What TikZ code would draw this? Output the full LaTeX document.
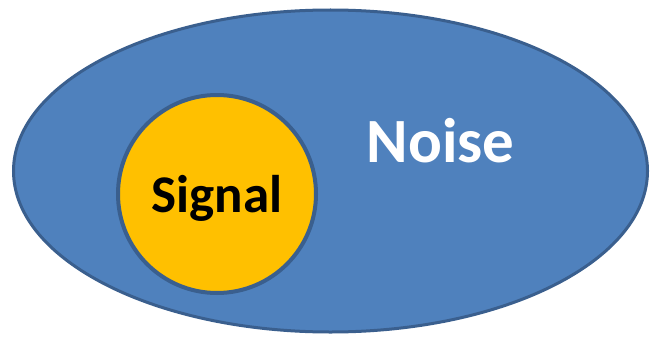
\documentclass[tikz,border=0pt]{standalone}
\usepackage{fontspec}
\usetikzlibrary{shapes.geometric}
\setmainfont{Carlito}
\definecolor{noiseblue}{HTML}{4F81BD}
\definecolor{edgeblue}{HTML}{3A5F8E}
\definecolor{signalgold}{HTML}{FFC000}
\tikzset{
  setshape/.style={draw=edgeblue},
  bigword/.style={font=\bfseries\fontsize{#1}{#1}\selectfont, inner sep=0pt, anchor=base}
}
\begin{document}
\begin{tikzpicture}[x=1pt,y=-1pt]
\useasboundingbox (0,0) rectangle (652,337);
\fill[white] (0,0) rectangle (652,337);
\node[setshape, ellipse, fill=noiseblue, line width=3pt, minimum width=634pt, minimum height=322pt, inner sep=0pt] (noise) at (330.5,171) {};
\node[setshape, circle, fill=signalgold, line width=4pt, minimum size=198pt, inner sep=0pt] (signal) at (217,194) {};
\node[bigword=63, text=white] (noiselabel) at (440.5,162) {Noise};
\node[bigword=53, text=black] (signallabel) at (217,212) {Signal};
\end{tikzpicture}
\end{document}
